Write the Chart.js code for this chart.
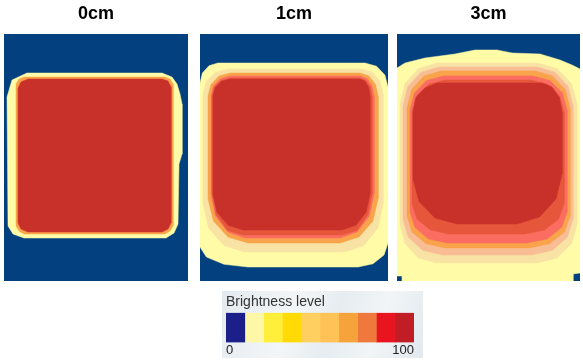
<!DOCTYPE html>
<html lang="en">
<head>
  <meta charset="UTF-8">
  <title>Brightness maps</title>
  <style>
    body { margin:0; padding:0; background:#fff; width:583px; height:362px; position:relative; overflow:hidden; }
    canvas { position:absolute; }
    #p0 { left:4px; top:0; }
    #p1 { left:200px; top:0; }
    #p2 { left:397px; top:0; }
    #legend { left:222px; top:291px; background:linear-gradient(110deg,#e3eaef 0%,#f3f6f8 35%,#e6ecf0 55%,#f1f5f7 75%,#e2e9ee 100%); }
  </style>
</head>
<body>
  <canvas id="p0" width="184" height="281"></canvas>
  <canvas id="p1" width="188" height="281"></canvas>
  <canvas id="p2" width="183" height="281"></canvas>
  <canvas id="legend" width="201" height="67"></canvas>

  <script src="https://cdn.jsdelivr.net/npm/chart.js"></script>
  <script>
    // panel titles and field size (pixels of the brightness map)
    const panelTitles = ['0cm', '1cm', '3cm'];
    const fieldW = [184, 188, 183];
    const fieldH = 247;

    // brightness level of each contour, outermost first (0 = background)
    const cm0Levels = [1, 4, 7];
    const cm0Contours = [
      [[23,39],[158,39],[168,43],[173,50],[176,60],[178,70],[178,120],[175,130],[174,190],[170,199],[162,204],[20,204],[9,200],[4,192],[3,63],[8,46]],
      [[20,43],[161,43],[166,45],[169,50],[169,192],[166,197],[161,200],[20,200],[15,197],[12,192],[12,50],[15,45]],
      [[24,45],[158,45],[164,47],[167,53],[167,189],[164,195],[158,198],[24,198],[17,195],[14,189],[14,54],[17,48]]
    ];

    const cm1Levels = [1, 2, 4, 5, 6, 7];
    const cm1Contours = [
      [[0,49],[2.4,39],[9,31.7],[18,29],[165,29],[176.5,32.2],[184.9,41],[188,53],[188,209],[184,221],[173,229.8],[158,233],[48,233],[24,230.3],[6.4,223],[0,213]],
      [[3,60],[6.3,47.5],[15.5,38.3],[28,35],[162,35],[172.5,38.3],[180.2,47.5],[183,60],[183,170],[177.9,194],[164,211.6],[145,218],[45,218],[24,211.6],[8.6,194],[3,170]],
      [[8,62],[11,50.5],[19,42.1],[30,39],[160,39],[169,42.1],[175.6,50.5],[178,62],[178,165],[172.9,187],[159,203.1],[140,209],[48,209],[28,203.1],[13.4,187],[8,165]],
      [[11,62],[13.5,52],[20.5,44.7],[30,42],[160,42],[167,44.7],[172,52],[174,62],[174,160],[169.4,182],[157,198.1],[140,204],[45,204],[28,198.1],[15.6,182],[11,160]],
      [[12,62],[14.4,53],[21,46.4],[30,44],[160,44],[166,46.4],[170.4,53],[172,62],[172,160],[168,180.5],[157,196.5],[142,201],[43,201],[27.5,196.5],[16.2,180.5],[12,160]],
      [[13,62],[15.3,53.5],[21.5,47.3],[30,45],[160,45],[165,47.3],[168.7,53.5],[170,62],[170,160],[166.2,178],[156,191.2],[142,196],[43,196],[28,191.2],[17,178],[13,160]]
    ];

    const cm3Levels = [1, 2, 3, 4, 5, 6, 7];
    const cm3Contours = [
      [[0,34],[8,29],[28,24],[58,20],[78,16],[100,16],[115,19],[143,20],[163,26],[175,31],[183,35],[183,239],[176,240],[176,247],[5,247],[5,242],[0,242]],
      [[3,70],[8,49.5],[21.5,34.5],[40,29],[140,29],[160,34.5],[174.6,49.5],[180,70],[180,190],[174.6,209.5],[160,224],[140,229],[40,229],[21.5,224],[8,209.5],[3,190]],
      [[6,72],[10.8,52.5],[24,38.2],[42,33],[140,33],[158,38.2],[171.2,52.5],[176,72],[176,185],[170.5,203],[155.5,216.2],[135,221],[45,221],[25.5,216.2],[11,203],[6,185]],
      [[10,74],[14.6,55.5],[27,41.9],[44,37],[138,37],[155.5,41.9],[168.3,55.5],[173,74],[173,182],[167.5,198],[152.5,209.7],[132,214],[48,214],[29,209.7],[15,198],[10,182]],
      [[13,76],[17.4,59],[29.5,46.6],[46,42],[136,42],[153,46.6],[165.4,59],[170,76],[170,178],[164.6,193.5],[150,205],[130,209],[50,209],[31.5,205],[18,193.5],[13,178]],
      [[15,78],[19.4,62],[31.5,50.3],[48,46],[134,46],[150.5,50.3],[162.6,62],[167,78],[167,170],[161.8,185],[147.5,196],[128,200],[52,200],[33.5,196],[20,185],[15,170]],
      [[16,78],[19,63.5],[28,53.9],[40,49],[145,49],[155,52.9],[162.3,63.5],[165,78],[165,140],[159,165],[142.5,183],[120,190],[60,190],[38,184],[22,167.5],[16,145]]
    ];

    // legend: 10 brightness bins from 0 to 100
    const legendTitle = 'Brightness level';
    const legendBins = [10, 10, 10, 10, 10, 10, 10, 10, 10, 10];

    // colours
    const levelColors = ['#03407f', '#fffba6', '#f8e3a4', '#f8bd94', '#f9a34a', '#fa6d60', '#e6563b', '#c8302a'];
    const legendColors = ['#1c1f8a', '#fff7a8', '#ffee3a', '#ffda05', '#ffd060', '#ffc257', '#f6a33c', '#ef793c', '#e8141f', '#c21c25'];

    Chart.defaults.font.family = '"Liberation Sans", Arial, sans-serif';

    const toPts = arr => arr.concat([arr[0]]).map(([x, y]) => ({ x, y }));

    function makePanel(id, idx, levels, contours) {
      const w = fieldW[idx];
      const shapes = [[[0,0],[w,0],[w,fieldH],[0,fieldH]]].concat(contours);
      const lv = [0].concat(levels);
      const n = shapes.length;
      new Chart(document.getElementById(id), {
        type: 'scatter',
        data: {
          datasets: shapes.map((s, i) => ({
            data: toPts(s),
            showLine: true,
            fill: 'shape',
            backgroundColor: levelColors[lv[i]],
            borderColor: levelColors[lv[i]],
            borderWidth: 0.5,
            pointRadius: 0,
            tension: 0,
            order: n - i
          }))
        },
        options: {
          responsive: false,
          animation: false,
          events: [],
          layout: { padding: 0 },
          scales: {
            x: { type: 'linear', min: 0, max: w, display: false },
            y: { type: 'linear', min: 0, max: fieldH, reverse: true, display: false }
          },
          plugins: {
            legend: { display: false },
            tooltip: { enabled: false },
            title: {
              display: true,
              text: panelTitles[idx],
              color: '#000',
              font: { size: 18, weight: 'bold' },
              padding: { top: 3, bottom: 9.4 }
            }
          }
        }
      });
    }

    makePanel('p0', 0, cm0Levels, cm0Contours);
    makePanel('p1', 1, cm1Levels, cm1Contours);
    makePanel('p2', 2, cm3Levels, cm3Contours);

    new Chart(document.getElementById('legend'), {
      type: 'bar',
      data: {
        labels: [''],
        datasets: legendBins.map((v, i) => ({
          data: [v],
          backgroundColor: legendColors[i],
          borderWidth: 0,
          barPercentage: 1,
          categoryPercentage: 1
        }))
      },
      options: {
        indexAxis: 'y',
        responsive: false,
        animation: false,
        events: [],
        layout: { padding: { left: 4, right: 9, top: 0, bottom: 0 } },
        scales: {
          x: {
            stacked: true, min: 0, max: 100,
            grid: { display: false, drawTicks: false, tickLength: 0 },
            border: { display: false },
            ticks: { stepSize: 100, align: 'inner', padding: 0, color: '#222', font: { size: 13 } }
          },
          y: { stacked: true, display: false }
        },
        plugins: {
          legend: { display: false },
          tooltip: { enabled: false },
          title: {
            display: true,
            text: legendTitle,
            align: 'start',
            color: '#333',
            font: { size: 14, weight: 'normal' },
            padding: { top: 3, bottom: 2 }
          }
        }
      }
    });
  </script>
</body>
</html>
